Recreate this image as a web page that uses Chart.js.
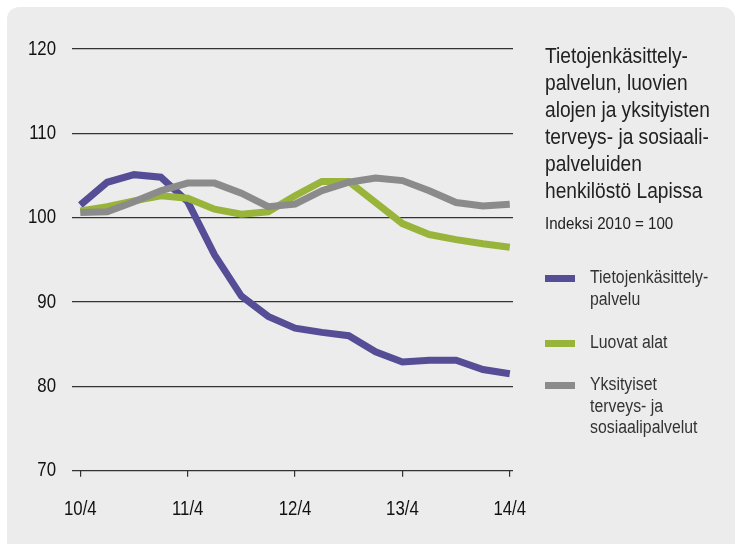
<!DOCTYPE html>
<html>
<head>
<meta charset="utf-8">
<script src="https://cdn.jsdelivr.net/npm/chart.js@4/dist/chart.umd.min.js"></script>
<style>
    body { margin: 0; background: #fff; }
    #wrap { position: relative; width: 739px; height: 544px; overflow: hidden; }
    #panel { position: absolute; left: 7px; top: 7px; width: 728px; height: 560px; background: #ececec; border-radius: 12px; }
    #chart { position: absolute; left: 0; top: 0; }
    .side { position: absolute; font-family: "Liberation Sans", Arial, sans-serif; white-space: nowrap;
            transform-origin: left top; }
    #title { left: 545px; top: 42px; font-size: 22px; line-height: 27px; color: #222; transform: scaleX(0.87); }
    #subtitle { left: 545px; top: 214px; font-size: 17px; color: #222; transform: scaleX(0.89); }
    .item { position: absolute; left: 545px; font-family: "Liberation Sans", Arial, sans-serif; font-size: 18px; line-height: 21.5px; color: #333; }
    .item .swatch { position: absolute; left: 0; top: 8px; width: 30px; height: 7px; }
    .item .txt { position: absolute; left: 45px; top: 0; white-space: nowrap; transform: scaleX(0.88); transform-origin: left top; }
</style>
</head>
<body>
<div id="wrap">
    <div id="panel"></div>
    <canvas id="chart" width="739" height="544"></canvas>
    <div class="side" id="title">Tietojenkäsittely-<br>palvelun, luovien<br>alojen ja yksityisten<br>terveys- ja sosiaali-<br>palveluiden<br>henkilöstö Lapissa</div>
    <div class="side" id="subtitle">Indeksi 2010 = 100</div>
    <div id="legend"></div>
</div>
<script>
// quarters 10/4 ... 14/4
const quarters = ["10/4", "11/1", "11/2", "11/3", "11/4", "12/1", "12/2", "12/3", "12/4",
    "13/1", "13/2", "13/3", "13/4", "14/1", "14/2", "14/3", "14/4"];
const tickLabels = ["10/4", "11/4", "12/4", "13/4", "14/4"];

const tietoValues = [101.5, 104.2, 105.1, 104.8, 101.9, 95.6, 90.7, 88.3, 86.9,
    86.4, 86.0, 84.1, 82.9, 83.1, 83.1, 82.0, 81.5];
const luovatValues = [100.8, 101.3, 102.0, 102.6, 102.3, 101.0, 100.4, 100.7, 102.6,
    104.3, 104.3, 101.8, 99.3, 98.0, 97.4, 96.9, 96.5];
const terveysValues = [100.6, 100.7, 101.9, 103.2, 104.1, 104.1, 102.9, 101.3, 101.6,
    103.2, 104.2, 104.7, 104.4, 103.2, 101.8, 101.4, 101.6];

const seriesNames = ["Tietojenkäsittely-\npalvelu", "Luovat alat", "Yksityiset\nterveys- ja\nsosiaalipalvelut"];
const seriesColors = ["#554e96", "#99b43b", "#8b8b8b"];

function points(values) {
    return values.map((v, i) => ({ x: i, y: v }));
}

const seriesValues = [tietoValues, luovatValues, terveysValues];

const datasets = seriesValues.map((vals, i) => ({
    label: seriesNames[i],
    data: points(vals),
    borderColor: seriesColors[i],
    backgroundColor: seriesColors[i],
    borderWidth: 7,
    pointRadius: 0,
    tension: 0,
    borderJoinStyle: "miter",
    order: 3 - i   // gray drawn on top
}));

// condensed tick labels (no narrow font installed, so squeeze Liberation Sans)
const condensedLabels = {
    id: "condensedLabels",
    afterDraw(chart) {
        const c = chart.ctx;
        const area = chart.chartArea;
        const xs = chart.scales.x;
        const ys = chart.scales.y;
        c.save();
        c.font = "21px 'Liberation Sans', Arial, sans-serif";
        c.fillStyle = "#111";
        c.textBaseline = "middle";

        ys.ticks.forEach(t => {
            c.save();
            c.translate(area.left - 16, ys.getPixelForValue(t.value));
            c.scale(0.8, 1);
            c.textAlign = "right";
            c.fillText(String(t.value), 0, 0);
            c.restore();
        });

        xs.ticks.forEach((t, i) => {
            c.save();
            c.translate(xs.getPixelForValue(t.value), area.bottom + 38.5);
            c.scale(0.8, 1);
            c.textAlign = "center";
            c.fillText(tickLabels[i], 0, 0);
            c.restore();
        });
        c.restore();
    }
};

const ctx = document.getElementById("chart").getContext("2d");

new Chart(ctx, {
    type: "line",
    data: { datasets: datasets },
    plugins: [condensedLabels],
    options: {
        responsive: false,
        animation: false,
        layout: { padding: { left: 0, right: 226, top: 49, bottom: 0 } },
        plugins: {
            legend: { display: false },
            tooltip: { enabled: false }
        },
        scales: {
            x: {
                type: "linear",
                min: -0.31,
                max: 16.12,
                afterBuildTicks: function (scale) {
                    scale.ticks = tickLabels.map((t, i) => ({ value: i * 4 }));
                },
                afterFit: function (scale) {
                    scale.height = 73.3;
                },
                ticks: { display: false },
                grid: {
                    drawOnChartArea: false,
                    drawTicks: true,
                    tickLength: 6,
                    color: "#333",
                    lineWidth: 1.2
                },
                border: { display: false }
            },
            y: {
                min: 70,
                max: 120,
                afterFit: function (scale) {
                    scale.width = 72;
                },
                ticks: { stepSize: 10, display: false },
                grid: {
                    drawTicks: false,
                    color: "#333",
                    lineWidth: 1.2
                },
                border: { display: false }
            }
        }
    }
});

// legend built from the series
const legendTops = [267, 332, 374];
const legend = document.getElementById("legend");
seriesNames.forEach((name, i) => {
    const item = document.createElement("div");
    item.className = "item";
    item.style.top = legendTops[i] + "px";
    const sw = document.createElement("div");
    sw.className = "swatch";
    sw.style.background = seriesColors[i];
    const txt = document.createElement("div");
    txt.className = "txt";
    txt.innerHTML = name.split("\n").join("<br>");
    item.appendChild(sw);
    item.appendChild(txt);
    legend.appendChild(item);
});
</script>
</body>
</html>
